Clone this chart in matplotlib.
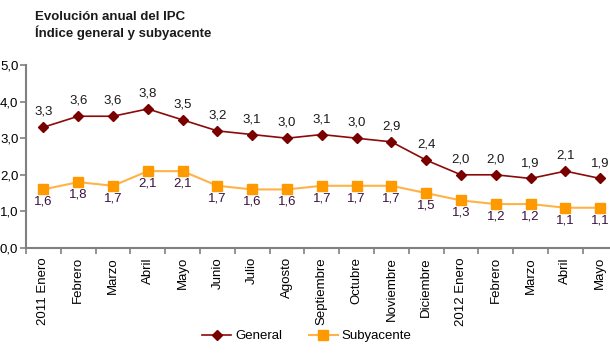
import matplotlib
matplotlib.use('Agg')
import matplotlib.pyplot as plt

plt.rcParams['font.family'] = ['Liberation Sans', 'DejaVu Sans']

# data
months = ['2011 Enero', 'Febrero', 'Marzo', 'Abril', 'Mayo', 'Junio', 'Julio',
          'Agosto', 'Septiembre', 'Octubre', 'Noviembre', 'Diciembre',
          '2012 Enero', 'Febrero', 'Marzo', 'Abril', 'Mayo']
general = [3.3, 3.6, 3.6, 3.8, 3.5, 3.2, 3.1, 3.0, 3.1, 3.0, 2.9, 2.4,
           2.0, 2.0, 1.9, 2.1, 1.9]
subyacente = [1.6, 1.8, 1.7, 2.1, 2.1, 1.7, 1.6, 1.6, 1.7, 1.7, 1.7, 1.5,
              1.3, 1.2, 1.2, 1.1, 1.1]
yticks = [0, 1, 2, 3, 4, 5]

fig = plt.figure(figsize=(6.10, 3.54), dpi=100)
# plot area runs past the right edge, like the original
ax = fig.add_axes([26 / 610, 106 / 354, 591.6 / 610, 183 / 354])

x = list(range(len(months)))
ax.plot(x, general, color='#8B0A0A', lw=1.2, marker='D', ms=5.5,
        mfc='#7A0000', mec='#7A0000', label='General', zorder=3)
ax.plot(x, subyacente, color='#FFB347', lw=1.5, marker='s', ms=7.5,
        mfc='#FF9900', mec='#FF9900', label='Subyacente', zorder=3)

# data labels
for i, v in enumerate(general):
    ax.annotate(f'{v:.1f}'.replace('.', ','), (i, v), xytext=(0, 11),
                textcoords='offset points', ha='center', va='center',
                fontsize=9.5, color='#1a1a1a')
for i, v in enumerate(subyacente):
    ax.annotate(f'{v:.1f}'.replace('.', ','), (i, v), xytext=(0, -9),
                textcoords='offset points', ha='center', va='center',
                fontsize=9.5, color='#3a1040')

ax.set_xlim(-0.5, len(months) - 0.5)
ax.set_ylim(0, 5)
ax.set_yticks(yticks)
ax.set_yticklabels([f'{t:.1f}'.replace('.', ',') for t in yticks], fontsize=9.5)

# category labels centred, ticks on the boundaries
ax.set_xticks(x)
ax.set_xticklabels(months, rotation=90, fontsize=9.5)
ax.tick_params(axis='x', which='major', length=0, pad=6.5)
ax.set_xticks([i - 0.5 for i in range(len(months) + 1)], minor=True)
ax.tick_params(axis='x', which='minor', length=4, width=1.2, color='#808080',
               direction='out')
ax.tick_params(axis='y', length=4, width=1.2, color='#808080', direction='out',
               pad=1.5)

for s in ['top', 'right']:
    ax.spines[s].set_visible(False)
for s in ['left', 'bottom']:
    ax.spines[s].set_color('#808080')
    ax.spines[s].set_linewidth(1.5)

fig.text(35 / 610, 1 - 17 / 354, 'Evolución anual del IPC', fontsize=9.5,
         fontweight='bold', color='#1a1a1a', va='center')
fig.text(35 / 610, 1 - 33 / 354, 'Índice general y subyacente', fontsize=9.5,
         fontweight='bold', color='#1a1a1a', va='center')

fig.legend(loc='center', bbox_to_anchor=(307 / 610, 1 - 336 / 354), ncol=2,
           frameon=False, fontsize=9.5, handlelength=2.2, columnspacing=2.0,
           handletextpad=0.3)

plt.savefig('out.png', dpi=100)
